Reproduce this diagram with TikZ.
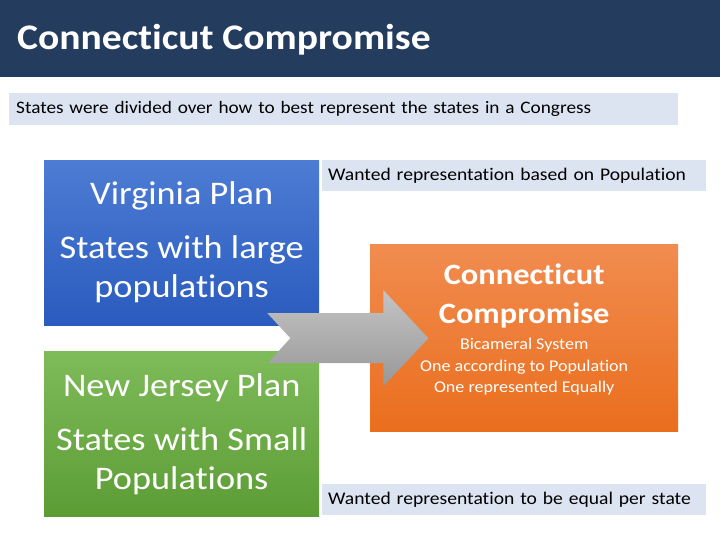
\documentclass[tikz,border=0pt]{standalone}
\usepackage{fontspec}
\setmainfont[FakeStretch=1.1, Ligatures=NoCommon]{Carlito}
\usepackage{xcolor}
\usetikzlibrary{calc,positioning}

\definecolor{titlebar}{HTML}{243C5E}
\definecolor{notefill}{HTML}{DCE3F1}
\definecolor{virgtop}{HTML}{4D7CD4}
\definecolor{virgbot}{HTML}{2A5BBE}
\definecolor{jertop}{HTML}{7EBB59}
\definecolor{jerbot}{HTML}{5C9C35}
\definecolor{cctop}{HTML}{F18C50}
\definecolor{ccbot}{HTML}{EA6E1D}
\definecolor{arrtop}{HTML}{C4C4C4}
\definecolor{arrbot}{HTML}{979797}

\begin{document}
\begin{tikzpicture}[x=1pt, y=-1pt]
	\newcommand{\bw}{275pt}
	\newcommand{\bh}{165pt}
	\tikzstyle{plan} = [anchor=north west, minimum width=\bw, minimum height=\bh, inner sep=0, align=center, text=white, font=\fontsize{33}{39}\selectfont]
	\tikzstyle{note} = [anchor=north west, fill=notefill, text width=372pt, inner xsep=6pt, minimum height=31pt, align=left, font=\fontsize{17.8}{20}\selectfont]
	\useasboundingbox (0,0) rectangle (720,540);
	% title bar
	\fill[titlebar] (0,0) rectangle (720,77);
	\node[anchor=west, inner sep=0, text=white, font=\bfseries\fontsize{36}{40}\selectfont] (title) at (17,40) {Connecticut Compromise};
	\node[note, text width=655pt, inner xsep=7pt, minimum height=32pt, font=\fontsize{17.5}{20}\selectfont] (intro) at (9,93) {States were divided over how to best represent the states in a Congress};
	% the two plans
	\node[plan, top color=virgtop, bottom color=virgbot] (virginia) at (44,160) {Virginia Plan\\[15pt] States with large\\ populations};
	\node[plan, top color=jertop, bottom color=jerbot] (jersey) at (44,351) {New Jersey Plan\\[15pt] States with Small\\ Populations};
	\node[anchor=north west, minimum width=308pt, minimum height=187pt, top color=cctop, bottom color=ccbot] (cc) at (370,244) {};
	% arrow
	\coordinate (tail) at ($(virginia.south east)!0.5!(jersey.north east)$);
	\path[top color=arrtop, bottom color=arrbot] ($(tail)+(-52,-25)$) -- ($(tail)+(64,-25)$) -- ($(tail)+(64,-48)$) -- ($(tail)+(109,0)$) -- ($(tail)+(64,48)$) -- ($(tail)+(64,25)$) -- ($(tail)+(-52,25)$) -- ($(tail)+(-29,0)$) -- cycle;
	\node[text=white, align=center, font=\bfseries\fontsize{29.5}{39}\selectfont] (cctitle) at ($(cc.north)+(0,52)$) {Connecticut\\ Compromise};
	\node[below=3pt of cctitle, text=white, align=center, font=\fontsize{16.4}{21.5}\selectfont] (ccbody) {Bicameral System\\ One according to Population\\ One represented Equally};
	\foreach \n/\y/\t in {wantpop/160/Wanted representation based on Population, wanteq/484/Wanted representation to be equal per state}
		{\node[note] (\n) at (322,\y) {\t}; }
\end{tikzpicture}
\end{document}
